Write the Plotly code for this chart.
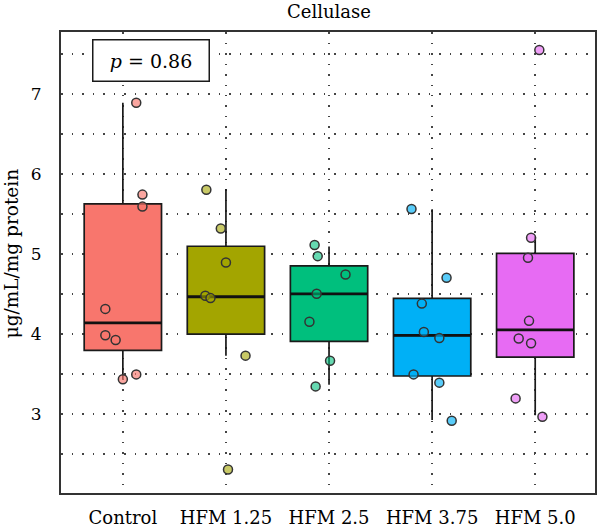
import plotly.graph_objects as go

categories = ["Control", "HFM 1.25", "HFM 2.5", "HFM 3.75", "HFM 5.0"]
colors = ["#F8766D", "#A3A500", "#00BF7D", "#00B0F6", "#E76BF3"]
point_colors = ["rgba(248,118,109,0.65)", "rgba(163,165,0,0.6)", "rgba(0,191,125,0.6)",
                "rgba(0,176,246,0.65)", "rgba(231,107,243,0.65)"]

control_vals = [6.89, 5.74, 5.59, 4.31, 3.98, 3.92, 3.49, 3.43]
hfm125_vals = [5.80, 5.315, 4.89, 4.475, 4.445, 3.725, 2.30]
hfm25_vals = [5.11, 4.97, 4.74, 4.50, 4.15, 3.66, 3.34]
hfm375_vals = [5.56, 4.70, 4.376, 4.02, 3.946, 3.49, 3.387, 2.91]
hfm50_vals = [7.55, 5.20, 4.95, 4.16, 3.94, 3.88, 3.19, 2.96]

# horizontal jitter offsets of the points (category units)
control_jit = [0.13, 0.19, 0.19, -0.17, -0.17, -0.07, 0.13, 0.0]
hfm125_jit = [-0.19, -0.05, 0.0, -0.2, -0.15, 0.19, 0.02]
hfm25_jit = [-0.14, -0.11, 0.16, -0.12, -0.19, 0.01, -0.13]
hfm375_jit = [-0.2, 0.14, -0.1, -0.08, 0.07, -0.18, 0.07, 0.19]
hfm50_jit = [0.04, -0.04, -0.07, -0.06, -0.16, -0.04, -0.19, 0.07]

# box statistics
q1 = [3.79, 3.995, 3.904, 3.47, 3.707]
median = [4.135, 4.462, 4.499, 3.978, 4.048]
q3 = [5.625, 5.094, 4.848, 4.442, 5.004]
lower = [3.43, 3.725, 3.36, 2.92, 2.98]
upper = [6.89, 5.81, 5.09, 5.557, 5.216]

p_text = "<i>p</i> = 0.86"
y_title = "μg/mL/mg protein"
title_text = "Cellulase"

values = [control_vals, hfm125_vals, hfm25_vals, hfm375_vals, hfm50_vals]
jitters = [control_jit, hfm125_jit, hfm25_jit, hfm375_jit, hfm50_jit]
BOX_W = 0.75

fig = go.Figure()
for i, cat in enumerate(categories):
    fig.add_trace(go.Box(
        x=[i], q1=[q1[i]], median=[median[i]], q3=[q3[i]],
        lowerfence=[lower[i]], upperfence=[upper[i]],
        width=BOX_W, fillcolor=colors[i], line=dict(color="#1a1a1a", width=1.7),
        whiskerwidth=0, boxpoints=False, name=cat, showlegend=False, hoverinfo="skip"))
    # thicker median line
    fig.add_trace(go.Scatter(
        x=[i - BOX_W / 2, i + BOX_W / 2], y=[median[i], median[i]], mode="lines",
        line=dict(color="#111111", width=2.8), showlegend=False, hoverinfo="skip"))
for i, cat in enumerate(categories):
    fig.add_trace(go.Scatter(
        x=[i + j for j in jitters[i]], y=values[i], mode="markers",
        marker=dict(size=9, color=point_colors[i], line=dict(color="#333333", width=1.5)),
        showlegend=False, name=cat))

FONT = "DejaVu Serif"
GRID = dict(showgrid=True, gridcolor="#444444", griddash="1.5px,9px", gridwidth=1.5)
fig.update_layout(
    width=600, height=531,
    margin=dict(l=61, r=3, t=32, b=30),
    paper_bgcolor="white", plot_bgcolor="white",
    font=dict(family=FONT, color="black", size=17),
    title=dict(text=title_text, x=(61 + 597) / 2 / 600, xanchor="center",
               y=1 - 12 / 531, yanchor="middle", font=dict(size=18, family=FONT)),
    showlegend=False,
)
fig.update_xaxes(
    range=[-0.6, 4.58], tickmode="array", tickvals=list(range(len(categories))),
    ticktext=categories, **GRID,
    zeroline=False, showline=True, mirror=True, linecolor="#333333", linewidth=2,
    ticks="", ticklabelstandoff=7, tickfont=dict(size=18, family=FONT))
fig.update_yaxes(
    range=[2.006, 7.775], tick0=0, dtick=1, **GRID,
    minor=dict(dtick=0.5, tick0=0, **GRID),
    zeroline=False, showline=True, mirror=True, linecolor="#333333", linewidth=2,
    ticks="", ticklabelstandoff=14, tickfont=dict(size=17, family=FONT))

fig.add_annotation(
    x=(11 - 61) / 536, y=(501 - 257) / 469, xref="paper", yref="paper",
    text=y_title, textangle=-90, showarrow=False, font=dict(size=18.5, family=FONT),
    xanchor="center", yanchor="middle")

fig.add_annotation(
    x=(151.5 - 61) / 536, y=(501 - 61.5) / 469, xref="paper", yref="paper",
    text=p_text, showarrow=False, font=dict(size=19, family=FONT),
    width=115, height=40, bordercolor="#1a1a1a", borderwidth=1.5, borderpad=0,
    bgcolor="white", xanchor="center", yanchor="middle")

fig.write_html("out.html")
